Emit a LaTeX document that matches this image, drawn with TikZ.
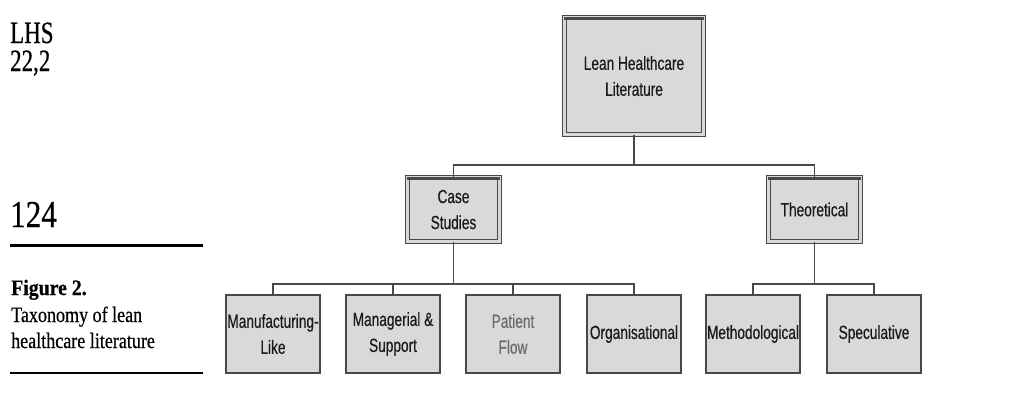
\documentclass[tikz,border=0pt]{standalone}
\usepackage{fontspec}
\setmainfont{Liberation Serif}
\newfontfamily\boxfont[FakeStretch=0.72,FakeBold=0.4]{Liberation Sans}
\newfontfamily\sidefont[FakeStretch=0.82,FakeBold=0.5]{Liberation Serif}
\newfontfamily\figfont[FakeStretch=0.9,FakeBold=0.5]{Liberation Serif}
\newfontfamily\headfont[FakeStretch=0.74,FakeBold=0.5]{Liberation Serif}
\definecolor{boxfill}{HTML}{D9D9D9}
\definecolor{boxline}{HTML}{484848}
\definecolor{boxtext}{HTML}{1A1A1A}
\definecolor{paletext}{HTML}{6A6A6A}
\begin{document}
\begin{tikzpicture}[x=1pt,y=-1pt,
  headbox/.style={draw=boxline, line width=1.4pt, double=boxfill, double distance=2.3pt,
    fill=boxfill, inner sep=0pt, text=boxtext, align=center,
    font=\boxfont\fontsize{19}{26}\selectfont},
  leafbox/.style={draw=boxline, line width=1.6pt, fill=boxfill, inner sep=0pt,
    minimum width=94.5pt, minimum height=78.5pt, text=boxtext, align=center,
    font=\boxfont\fontsize{19}{26}\selectfont},
  link/.style={draw=boxline, line width=1.6pt},
  sidetext/.style={anchor=base west, inner sep=0pt, text=black},
  rulestyle/.style={draw=black}]
\useasboundingbox (0,0) rectangle (1019,399);

% margin notes
\node[sidetext, font=\headfont\fontsize{31}{31}\selectfont] (lhs) at (10,43) {LHS};
\node[sidetext, font=\headfont\fontsize{31}{31}\selectfont] (vol) at (10,71) {22,2};
\node[sidetext, font=\sidefont\fontsize{38}{38}\selectfont] (page) at (10,227) {124};
\coordinate (ruleA1) at (10,245);
\coordinate (ruleA2) at (203,245);
\draw[rulestyle, line width=3pt] (ruleA1) -- (ruleA2);
\node[sidetext, font=\figfont\bfseries\fontsize{22}{22}\selectfont] (fig) at (11,295) {Figure 2.};
\node[sidetext, font=\sidefont\fontsize{22}{22}\selectfont] (cap1) at (11,322) {Taxonomy of lean};
\node[sidetext, font=\sidefont\fontsize{22}{22}\selectfont] (cap2) at (11,348) {healthcare literature};
\coordinate (ruleB1) at (10,373);
\coordinate (ruleB2) at (203,373);
\draw[rulestyle, line width=1.5pt] (ruleB1) -- (ruleB2);

% connectors
\coordinate (j1) at (634,165);
\coordinate (j2) at (453.5,284);
\coordinate (j3) at (814.5,284);

% top level
\node[headbox, minimum width=139pt, minimum height=117pt] (root) at (634,76) {Lean Healthcare\\Literature};

% second level
\node[headbox, minimum width=92pt, minimum height=64pt] (case) at (453.5,209.5) {Case\\Studies};
\node[headbox, minimum width=92pt, minimum height=64pt] (theo) at (814.5,209.5) {Theoretical};

% third level
\node[leafbox] (manu) at (273,334) {Manufacturing-\\Like};
\node[leafbox] (mana) at (393,334) {Managerial \&\\Support};
\node[leafbox, text=paletext] (flow) at (513,334) {Patient\\Flow};
\node[leafbox] (orga) at (634,334) {Organisational};
\node[leafbox] (meth) at (753,334) {Methodological};
\node[leafbox] (spec) at (874,334) {Speculative};

% heavier top edges of the heading boxes
\foreach \b in {root,case,theo}
  \draw[boxline, line width=3pt] ([yshift=-1.5pt]\b.north west) -- ([yshift=-1.5pt]\b.north east);

% tree lines
\draw[link] (root.south) -- (j1);
\draw[link] (case.north) -- (case.north |- j1) -- (theo.north |- j1) -- (theo.north);
\draw[link] (case.south) -- (j2);
\draw[link] (manu.north) -- (manu.north |- j2) -- (orga.north |- j2) -- (orga.north);
\draw[link] (mana.north) -- (mana.north |- j2);
\draw[link] (flow.north) -- (flow.north |- j2);
\draw[link] (theo.south) -- (j3);
\draw[link] (meth.north) -- (meth.north |- j3) -- (spec.north |- j3) -- (spec.north);
\end{tikzpicture}
\end{document}
